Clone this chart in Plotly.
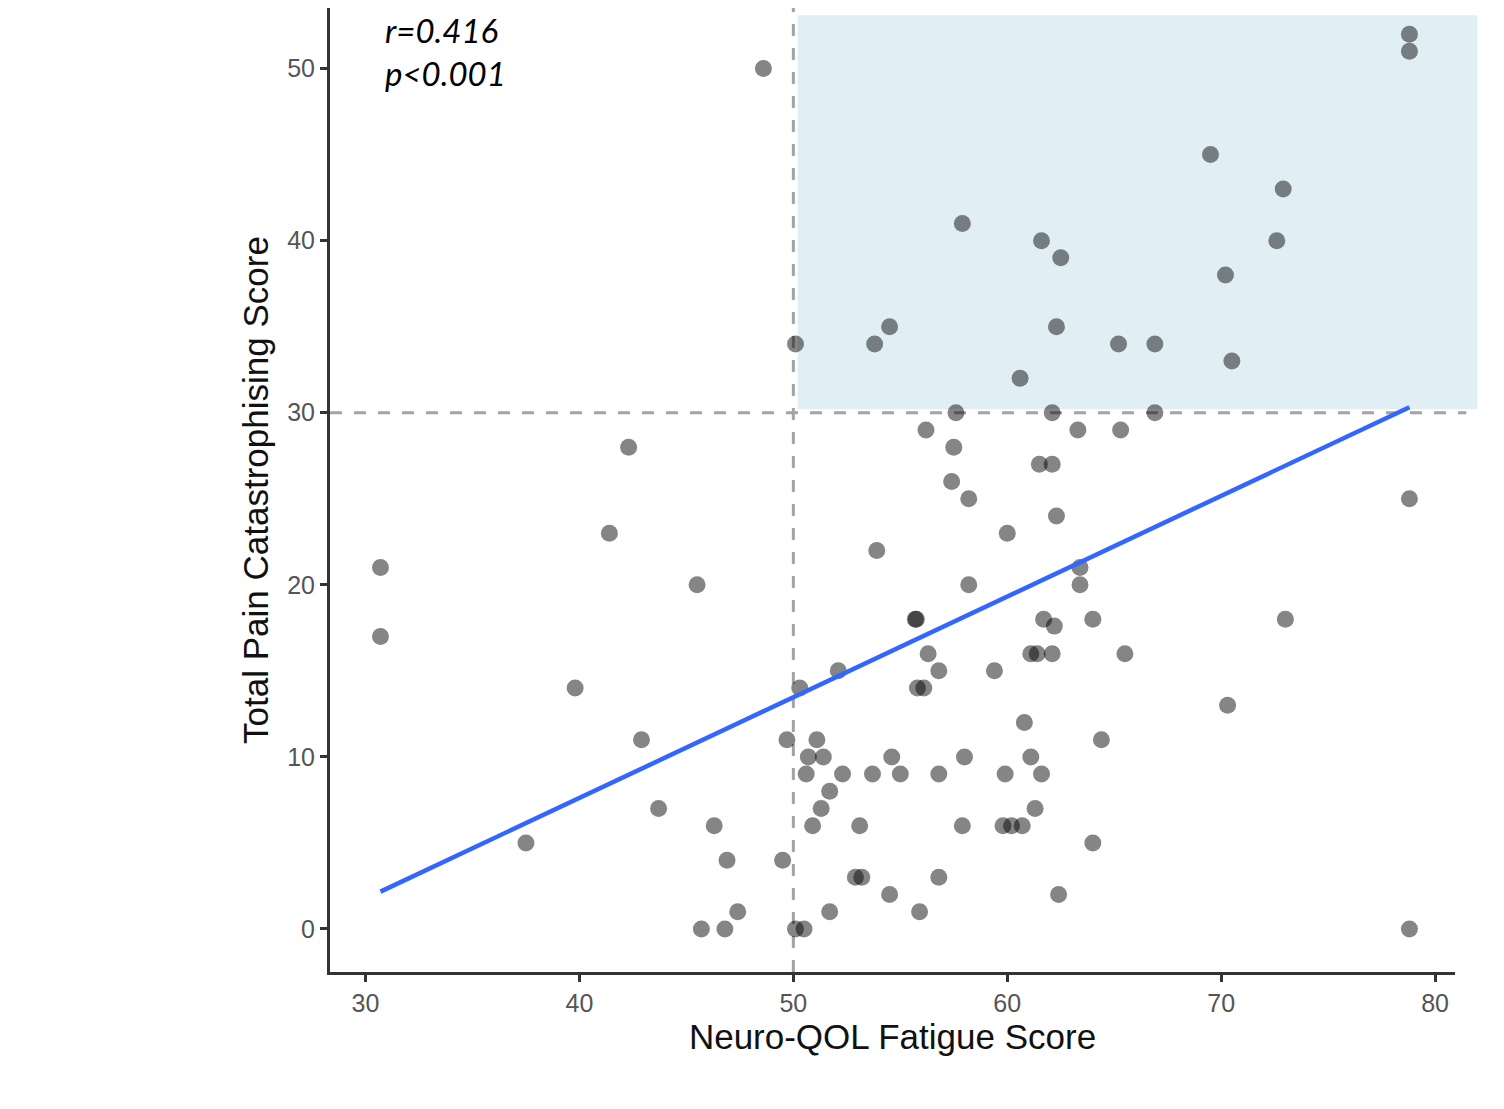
import numpy as np
import plotly.graph_objects as go

# ---- data ----
fatigue = [48.6, 78.8, 78.8, 69.5, 72.9, 57.9, 61.6, 72.6, 62.5, 70.2,
           54.5, 62.3, 50.1, 53.8, 65.2, 66.9, 70.5, 60.6, 57.6, 62.1,
           66.9, 56.2, 63.3, 65.3, 42.3, 57.5, 61.5, 62.1, 57.4,
           58.2, 78.8, 62.3, 41.4, 60.0, 53.9, 30.7, 63.4, 45.5, 58.2,
           63.4, 55.7, 55.75, 61.7, 62.2, 64.0, 73.0, 56.3, 61.1, 61.4,
           62.1, 65.5, 52.1, 56.8, 59.4, 50.3, 55.8, 56.1, 39.8, 70.3,
           60.8, 49.7, 51.1, 64.4, 42.9, 50.7, 51.4, 54.6, 58.0, 61.1,
           50.6, 52.3, 53.7, 55.0, 56.8, 59.9, 61.6, 51.7, 51.3, 61.3,
           43.7, 50.9, 53.1, 57.9, 59.8, 60.2, 60.7, 46.3, 64.0, 37.5,
           49.5, 46.9, 52.9, 53.2, 56.8, 54.5, 62.4, 51.7, 55.9, 47.4,
           45.7, 46.8, 50.1, 50.5, 78.8, 30.7]
pain = [50, 52, 51, 45, 43, 41, 40, 40, 39, 38,
        35, 35, 34, 34, 34, 34, 33, 32, 30, 30,
        30, 29, 29, 29, 28, 28, 27, 27, 26,
        25, 25, 24, 23, 23, 22, 21, 21, 20, 20,
        20, 18, 18, 18, 17.6, 18, 18, 16, 16, 16,
        16, 16, 15, 15, 15, 14, 14, 14, 14, 13,
        12, 11, 11, 11, 11, 10, 10, 10, 10, 10,
        9, 9, 9, 9, 9, 9, 9, 8, 7, 7,
        7, 6, 6, 6, 6, 6, 6, 6, 5, 5,
        4, 4, 3, 3, 3, 2, 2, 1, 1, 1,
        0, 0, 0, 0, 0, 17]

x_ticks = [30, 40, 50, 60, 70, 80]
y_ticks = [0, 10, 20, 30, 40, 50]
fatigue_cut = 50
pain_cut = 30
stats_text = "r=0.416<br>p&lt;0.001"

x_title = "Neuro-QOL Fatigue Score"
y_title = "Total Pain Catastrophising Score"

# ---- figure ----
x_range = [28.34, 80.93]
y_range = [-2.5, 53.52]

slope, intercept = np.polyfit(fatigue, pain, 1)
fit_x = np.array([min(fatigue), max(fatigue)])
fit_y = slope * fit_x + intercept

fig = go.Figure()

fig.add_trace(go.Scatter(
    x=fatigue, y=pain, mode="markers",
    marker=dict(size=17, color="rgba(0,0,0,0.48)", line=dict(width=0)),
    showlegend=False, hoverinfo="x+y"))

fig.add_trace(go.Scatter(
    x=fit_x, y=fit_y, mode="lines",
    line=dict(color="#3366FF", width=4.5),
    showlegend=False))

# shaded high-fatigue / high-catastrophising quadrant
rect_x0 = fatigue_cut + 0.2
fig.add_shape(type="rect", xref="x domain", yref="y",
              x0=(rect_x0 - x_range[0]) / (x_range[1] - x_range[0]), x1=1.02,
              y0=pain_cut + 0.2, y1=53.1,
              fillcolor="#e1eff5", line=dict(width=0), layer="below")
# cut-off lines
fig.add_shape(type="line", xref="x domain", yref="y", x0=0, x1=1.01,
              y0=pain_cut, y1=pain_cut,
              line=dict(color="#a3a3a3", width=3, dash="12px,12px"), layer="below")
fig.add_shape(type="line", xref="x", yref="y domain", x0=fatigue_cut, x1=fatigue_cut,
              y0=0, y1=1,
              line=dict(color="#a3a3a3", width=3, dash="12px,12px"), layer="below")

fig.add_annotation(x=30.8, y=53.5, xref="x", yref="y", xanchor="left", yanchor="top",
                   yshift=0,
                   text="<i>" + stats_text + "</i>", showarrow=False, align="left",
                   font=dict(family="Lato", size=33, color="black"))

fig.update_layout(
    width=1496, height=1101,
    margin=dict(l=322, r=49, t=0, b=137),
    plot_bgcolor="white", paper_bgcolor="white",
    font=dict(family="Liberation Sans, Arial, sans-serif"),
)
fig.update_xaxes(
    range=x_range, tickvals=x_ticks, showgrid=False, zeroline=False,
    showline=True, linecolor="#333333", linewidth=3,
    ticks="outside", ticklen=7, tickwidth=2.5, tickcolor="#333333",
    tickfont=dict(size=25, color="#555555"),
    title=dict(text=x_title, font=dict(size=35, color="#111111"), standoff=8),
)
fig.update_yaxes(
    range=y_range, tickvals=y_ticks, showgrid=False, zeroline=False,
    showline=True, linecolor="#333333", linewidth=3,
    ticks="outside", ticklen=7, tickwidth=2.5, tickcolor="#333333",
    tickfont=dict(size=25, color="#555555"),
    title=dict(text=y_title, font=dict(size=35, color="#111111"), standoff=8),
)

fig.write_html("out.html")
